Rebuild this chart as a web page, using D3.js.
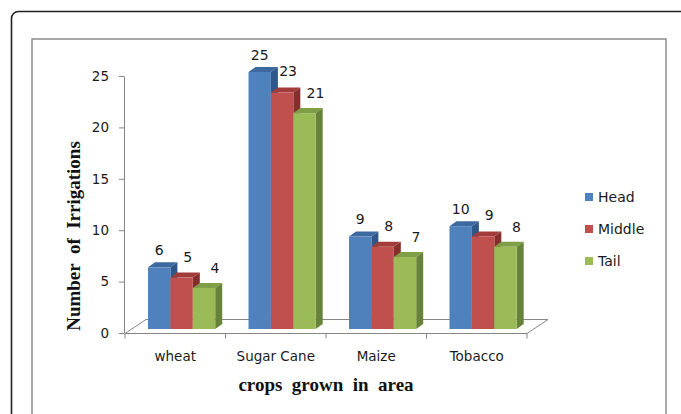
<!DOCTYPE html>
<html>
<head>
<meta charset="utf-8">
<script src="https://cdn.jsdelivr.net/npm/d3@7"></script>
<style>
  html, body { margin: 0; padding: 0; background: #fff; }
  svg { display: block; }
</style>
</head>
<body>
<svg id="chart" width="681" height="414"></svg>
<script>
// Irrigation counts per crop, split by canal reach
const crops = ["wheat", "Sugar Cane", "Maize", "Tobacco"];
const seriesNames = ["Head", "Middle", "Tail"];
const headValues = [6, 25, 9, 10];
const middleValues = [5, 23, 8, 9];
const tailValues = [4, 21, 7, 8];
const yTicks = [0, 5, 10, 15, 20, 25];

const seriesValues = [headValues, middleValues, tailValues];
const frontColors = ["#4F81BD", "#C0504D", "#9BBB59"];
const topColors = ["#3C699F", "#A23C3A", "#7F9E46"];
const sideColors = ["#2F5889", "#852E2C", "#67833A"];

const svg = d3.select("#chart");
const labelFont = "DejaVu Sans, Verdana, sans-serif";
const serifFont = "Liberation Serif, Times New Roman, serif";

// Outer rounded frame and the chart-area border
svg.append("rect")
  .attr("x", 11.5).attr("y", 11.5).attr("width", 720).attr("height", 450)
  .attr("rx", 7).attr("fill", "none").attr("stroke", "#222").attr("stroke-width", 1.6);
svg.append("rect")
  .attr("x", 32).attr("y", 39).attr("width", 634).attr("height", 420)
  .attr("fill", "none").attr("stroke", "#8c8c8c").attr("stroke-width", 1.5);

// Scales
const y = d3.scaleLinear().domain([0, 25]).range([333, 76]);
const x = d3.scaleBand().domain(crops).range([125, 527]);
const inner = d3.scaleBand().domain(seriesNames).range([23, 23 + 67.2]);

// 3D depth settings
const floorDx = 21, floorDy = -14;
const barDx = 7, barDy = -5;
const barLift = 4; // bars stand slightly behind the front edge of the floor

const axisColor = "#868686";

// Floor outline
const fx0 = x.range()[0], fx1 = x.range()[1], fy = y(0) + 0.5;
svg.append("path")
  .attr("d", `M${fx0},${fy} L${fx1},${fy} L${fx1 + floorDx},${fy + floorDy} L${fx0 + floorDx},${fy + floorDy} Z`)
  .attr("fill", "none").attr("stroke", axisColor).attr("stroke-width", 1);

// Category tick marks on the front edge
const bounds = crops.map(c => x(c)).concat([fx1]);
svg.selectAll("line.ctick").data(bounds).join("line")
  .attr("class", "ctick")
  .attr("x1", d => d).attr("x2", d => d)
  .attr("y1", fy).attr("y2", fy + 5)
  .attr("stroke", axisColor);

// Value axis
const yAxis = svg.append("g")
  .attr("transform", "translate(124,0)")
  .call(d3.axisLeft(y).tickValues(yTicks).tickSize(5).tickSizeOuter(0).tickPadding(10));
yAxis.select(".domain").attr("stroke", axisColor);
yAxis.selectAll(".tick line").attr("stroke", axisColor);
yAxis.selectAll(".tick text")
  .attr("fill", "#1a1a1a").attr("font-family", labelFont).attr("font-size", 13.5);

// Bars
const bars = [];
crops.forEach((c, ci) => {
  seriesNames.forEach((s, si) => {
    bars.push({ crop: c, series: s, si, value: seriesValues[si][ci] });
  });
});

const barG = svg.append("g");
bars.forEach(b => {
  const x0 = x(b.crop) + inner(b.series);
  const x1 = x0 + inner.bandwidth();
  const bottom = y(0) - barLift;
  const top = y(b.value) - barLift;
  const g = barG.append("g");
  g.append("path")
    .attr("d", `M${x0},${top} L${x1},${top} L${x1 + barDx},${top + barDy} L${x0 + barDx},${top + barDy} Z`)
    .attr("fill", topColors[b.si]);
  g.append("path")
    .attr("d", `M${x1},${top} L${x1 + barDx},${top + barDy} L${x1 + barDx},${bottom + barDy} L${x1},${bottom} Z`)
    .attr("fill", sideColors[b.si]);
  g.append("rect")
    .attr("x", x0).attr("y", top).attr("width", x1 - x0).attr("height", bottom - top)
    .attr("fill", frontColors[b.si]);
});

// Value labels
const labelDx = [0, 6, 11];
const labelDy = [17, 21, 20];
svg.selectAll("text.val").data(bars).join("text")
  .attr("class", "val")
  .attr("x", b => x(b.crop) + inner(b.series) + inner.bandwidth() / 2 + labelDx[b.si])
  .attr("y", b => y(b.value) - barLift - labelDy[b.si])
  .attr("dy", "0.35em")
  .attr("text-anchor", "middle")
  .attr("font-family", labelFont).attr("font-size", 14).attr("fill", "#1a1a1a")
  .text(b => b.value);

// Category labels
svg.selectAll("text.cat").data(crops).join("text")
  .attr("class", "cat")
  .attr("x", c => x(c) + x.bandwidth() / 2)
  .attr("y", 356).attr("dy", "0.35em")
  .attr("text-anchor", "middle")
  .attr("font-family", labelFont).attr("font-size", 13.5).attr("fill", "#1a1a1a")
  .text(c => c);

// Axis titles
svg.append("text")
  .attr("x", 326).attr("y", 384).attr("dy", "0.35em")
  .attr("text-anchor", "middle")
  .attr("font-family", serifFont).attr("font-weight", "bold").attr("font-size", 19)
  .attr("fill", "#111")
  .style("white-space", "pre")
  .text("crops  grown  in  area");

svg.append("text")
  .attr("transform", "translate(73,236) rotate(-90)")
  .attr("dy", "0.35em")
  .attr("text-anchor", "middle")
  .attr("font-family", serifFont).attr("font-weight", "bold").attr("font-size", 19)
  .attr("fill", "#111")
  .style("white-space", "pre")
  .text("Number  of  Irrigations");

// Legend
const legend = svg.append("g");
seriesNames.forEach((s, i) => {
  const cy = 197 + i * 32;
  legend.append("rect")
    .attr("x", 585).attr("y", cy - 4).attr("width", 8).attr("height", 8)
    .attr("fill", frontColors[i]);
  legend.append("text")
    .attr("x", 598).attr("y", cy).attr("dy", "0.35em")
    .attr("font-family", labelFont).attr("font-size", 14).attr("fill", "#1a1a1a")
    .text(s);
});
</script>
</body>
</html>
